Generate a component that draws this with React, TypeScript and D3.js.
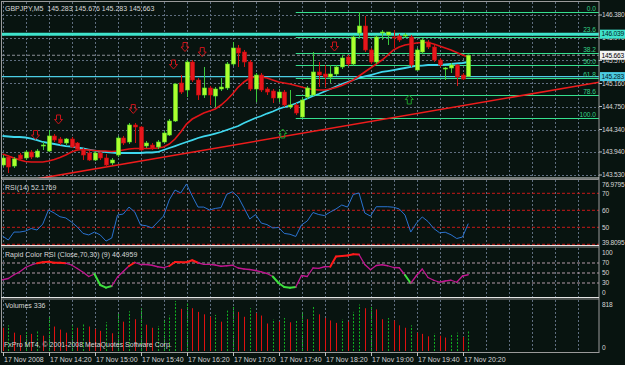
import React from "react";
import * as d3 from "d3";

// ---------- DATA ----------
const titleText = "GBPJPY,M5  145.283 145.676 145.283 145.663";
const rsiTitle = "RSI(14) 52.1769";
const rapidTitle = "Rapid Color RSI (Close,70,30) (9) 46.4959";
const volTitle = "Volumes 336";
const copyright = "FxPro MT4, \u00A9 2001-2008 MetaQuotes Software Corp.";

const opens = [143.708,143.850,143.690,143.886,143.833,143.940,143.850,144.047,143.957,144.225,
144.171,144.100,144.171,144.100,143.975,143.922,143.797,143.922,143.833,143.744,
143.886,144.189,144.118,144.421,144.385,144.047,144.064,144.029,144.118,144.242,
144.492,145.169,145.044,145.543,145.222,144.955,145.080,144.937,145.062,145.080,
145.507,145.792,145.721,145.543,145.062,145.311,145.062,145.026,144.902,145.008,
144.741,144.777,144.563,144.919,144.955,145.365,145.329,145.276,145.329,145.454,
145.632,145.507,146.059,146.184,145.757,145.543,146.059,146.024,145.988,146.006,
146.006,145.988,145.400,145.721,145.899,145.810,145.578,145.418,145.436,145.489,
145.311,145.283];
const highs = [143.886,143.886,143.850,143.922,143.975,143.975,143.993,144.118,144.332,144.260,
144.207,144.189,144.207,144.118,144.011,143.957,143.957,143.940,143.904,143.833,
144.225,144.225,144.456,144.456,144.403,144.136,144.100,144.153,144.314,144.528,
145.169,145.311,145.578,145.578,145.258,145.454,145.115,145.097,145.258,145.543,
145.899,145.846,145.757,145.578,145.347,145.347,145.097,145.062,145.062,145.044,
145.044,144.812,144.919,145.115,145.721,145.543,145.489,145.489,145.489,145.667,
145.667,146.024,146.433,146.362,145.792,146.024,146.113,146.077,146.113,146.042,
146.059,146.024,145.792,145.970,145.935,145.846,145.614,145.454,145.525,145.507,
145.347,145.676];
const lows = [143.672,143.566,143.655,143.779,143.797,143.815,143.833,143.975,143.940,144.118,
144.064,144.064,144.011,143.957,143.797,143.779,143.779,143.797,143.672,143.708,
143.850,144.064,144.082,144.100,143.957,144.011,143.975,143.993,144.100,144.225,
144.474,144.973,144.919,145.187,144.866,144.902,144.777,144.741,145.026,145.044,
145.472,145.454,145.454,145.026,144.830,145.008,144.955,144.812,144.830,144.741,
144.706,144.599,144.545,144.884,144.937,145.097,145.097,145.169,145.293,145.418,
145.472,145.472,145.970,145.721,145.507,145.507,145.935,145.846,145.792,145.899,
145.970,145.454,145.382,145.685,145.774,145.543,145.454,145.222,145.347,145.115,
145.222,145.283];
const closes = [143.833,143.672,143.815,143.815,143.940,143.850,143.957,144.064,144.225,144.153,
144.100,144.171,144.029,143.993,143.886,143.797,143.922,143.833,143.708,143.797,
144.189,144.100,144.421,144.385,143.975,144.100,144.011,144.118,144.278,144.492,
145.151,145.008,145.543,145.222,144.955,145.080,144.955,145.062,145.097,145.507,
145.792,145.703,145.543,145.062,145.311,145.044,145.008,144.902,145.008,144.777,
144.777,144.634,144.866,145.080,145.365,145.311,145.276,145.329,145.454,145.614,
145.507,145.988,146.184,145.757,145.543,145.988,146.077,146.077,145.970,145.935,
146.024,145.489,145.757,145.935,145.810,145.578,145.489,145.436,145.489,145.276,
145.240,145.663];

const maRed = [143.904,143.868,143.833,143.797,143.770,143.761,143.761,143.761,143.779,143.806,
143.842,143.886,143.940,143.975,143.984,143.975,143.966,143.957,143.957,143.949,
143.957,143.975,143.993,144.002,144.002,144.002,144.002,144.011,144.029,144.082,
144.171,144.296,144.438,144.527,144.581,144.634,144.670,144.706,144.777,144.866,
144.973,145.097,145.187,145.258,145.276,145.276,145.258,145.222,145.187,145.169,
145.151,145.124,145.097,145.071,145.053,145.044,145.044,145.062,145.089,145.124,
145.169,145.222,145.293,145.365,145.436,145.507,145.578,145.667,145.757,145.810,
145.846,145.863,145.881,145.890,145.890,145.863,145.828,145.792,145.757,145.712,
145.667,145.632];
const maCyan = [144.225,144.216,144.207,144.207,144.198,144.180,144.153,144.118,144.100,144.082,
144.064,144.046,144.038,144.020,144.002,143.984,143.966,143.949,143.940,143.931,
143.922,143.922,143.922,143.922,143.922,143.931,143.931,143.940,143.975,144.011,
144.046,144.082,144.118,144.153,144.189,144.216,144.242,144.269,144.296,144.332,
144.367,144.403,144.456,144.501,144.545,144.581,144.625,144.661,144.706,144.741,
144.768,144.804,144.848,144.893,144.937,144.973,145.017,145.062,145.106,145.151,
145.187,145.222,145.258,145.285,145.311,145.338,145.365,145.382,145.400,145.418,
145.436,145.454,145.472,145.480,145.489,145.489,145.489,145.498,145.507,145.516,
145.525,145.543];

const rsiValues = [44.9,42.5,47.2,47.2,47.8,49.3,48.4,51.9,60.2,58.4,
56.2,55.5,53.1,50.2,46.4,45.5,47.2,45.5,41.9,43.7,
57.2,57.8,61.9,59.0,51.4,50.9,49.6,53.1,56.6,66.1,
71.9,70.2,75.5,68.4,61.9,61.9,60.2,61.1,61.6,69.4,
70.9,67.8,61.4,54.9,57.5,52.5,51.6,49.6,49.9,46.4,
45.9,44.6,51.4,53.7,58.7,57.5,56.9,59.0,60.8,63.1,
61.9,69.3,70.2,58.4,56.6,62.1,62.1,62.1,61.8,60.8,
57.2,47.2,52.5,56.1,53.4,49.3,46.8,47.1,45.6,43.4,
44.3,52.18];

const rapidValues = [36.5,39,46.5,52.5,61,66,69.5,71.5,72.5,70.3,
70.3,69.5,66,59,51.5,43,48,26,20.7,24,
42,53,64,71,67,67,65.5,62.5,60.7,64,
72,71.5,71.5,75.5,70.5,67.3,67.3,66,63.5,64.5,
65.5,60,58,57,55,52.2,49,43,30,22,
20.7,22,45,43,60,59.3,62.5,62.7,83,84,
85,87.3,87,67,56.5,65,66.5,64.5,61,60.5,
46,29.5,45,58,41,35.5,31.5,34,35.5,31.5,
44,46.5];
const rapidUpRanges = [[7, 11], [23, 23], [30, 34], [58, 62]];
const rapidDownRanges = [[17, 19], [48, 51], [71, 71]];

const volumes = [380,420,300,260,310,280,330,250,560,400,
350,300,420,380,450,400,360,330,470,290,
620,480,650,520,700,430,380,410,520,580,
818,690,780,700,640,600,560,590,480,660,
720,640,560,700,620,580,450,520,480,540,
470,500,640,520,720,600,540,500,460,520,
480,640,760,700,720,680,520,540,500,420,
380,420,300,280,240,290,250,220,260,300,
230,336];

const timeLabelBars = [0, 8, 16, 24, 32, 40, 48, 56, 64, 72, 80];
const timeLabels = ["17 Nov 2008","17 Nov 14:20","17 Nov 15:00","17 Nov 15:40","17 Nov 16:20",
  "17 Nov 17:00","17 Nov 17:40","17 Nov 18:20","17 Nov 19:00","17 Nov 19:40","17 Nov 20:20"];
const priceTicks = [146.380,145.970,145.570,145.160,144.750,144.340,143.940,143.530];
const rsiAxisValues = [76.9795, 70, 60, 50, 39.8095];
const rsiAxisLabels = ["76.9795", "70", "60", "50", "39.8095"];
const rsiLevels = [70, 60, 50, 40];
const rapidAxisValues = [100, 70, 50, 30, 0];
const rapidLevels = [70, 50, 30];
const volAxisValues = [818, 0];

const fibHigh = 146.433;
const fibLow = 144.545;
const fibStartBar = 51;
const fibLevels = [0, 23.6, 38.2, 50.0, 61.8, 78.6, 100.0];
const fibLabels = ["0.0", "23.6", "38.2", "50.0", "61.8", "78.6", "100.0"];

const trendBars = [20, 70];
const trendPrices = [143.708, 144.588];

const hLinePrices = [146.039, 145.283];
const hLineLabels = ["146.039", "145.283"];
const bidPrice = 145.663;
const bidLabel = "145.663";

const downArrowBars = [6, 10, 23, 30, 32, 35, 58];
const downArrowPrices = [144.242, 144.519, 144.706, 145.498, 145.810, 145.721, 145.819];
const upArrowBars = [49, 71];
const upArrowPrices = [144.269, 144.875];

// ---------- CHART ----------
const W = 625, H = 365;
const RIGHT = 599;
const FONT = "'Liberation Sans', Arial, sans-serif";
const TXT = "#d6d6d6";
const GRID = "#5f6e80";
const AXFS = 6.6;

export default function App() {
  const n = closes.length;
  const idx = d3.range(n);
  const x = d3.scaleLinear().domain([0, 1]).range([2.5, 8.25]);
  const yP = d3.scaleLinear().domain([143.53, 146.38]).range([175, 15]);
  const yR = d3.scaleLinear().domain([50, 70]).range([227.3, 193.3]);
  const yC = d3.scaleLinear().domain([0, 100]).range([298, 248]);
  const yV = d3.scaleLinear().domain([0, 818]).range([351, 301]);

  const line = (arr: number[], ys: (v: number) => number) =>
    d3.line<number>().x((i) => x(i)).y((i) => ys(arr[i]))(idx) || "";

  const gridBars = d3.range(0, 110, 4).filter((b) => x(b) < RIGHT - 1);
  const clamp = (v: number, a: number, b: number) => Math.max(a, Math.min(b, v));
  const inRanges = (i: number, r: number[][]) => r.some(([a, b]) => i >= a && i <= b);

  const trendSlope = (trendPrices[1] - trendPrices[0]) / (trendBars[1] - trendBars[0]);
  const tb0 = -10, tb1 = 110;
  const tp = (b: number) => trendPrices[0] + (b - trendBars[0]) * trendSlope;

  const downArrow = (cx: number, cy: number) =>
    `M${cx - 2},${cy - 4.5} H${cx + 2} V${cy} H${cx + 4} L${cx},${cy + 4.5} L${cx - 4},${cy} H${cx - 2} Z`;
  const upArrow = (cx: number, cy: number) =>
    `M${cx - 2},${cy + 4.5} H${cx + 2} V${cy} H${cx + 4} L${cx},${cy - 4.5} L${cx - 4},${cy} H${cx - 2} Z`;

  const vgrid = (y1: number, y2: number) =>
    gridBars.map((b) => (
      <line key={`vg${y1}-${b}`} x1={Math.round(x(b)) + 0.5} x2={Math.round(x(b)) + 0.5} y1={y1} y2={y2}
        stroke={GRID} strokeDasharray="2,2" strokeWidth={1} />
    ));

  const yThick = yP(hLinePrices[0]);

  return (
    <svg width={W} height={H} style={{ position: "fixed", left: 0, top: 0, background: "#081410" }}
      fontFamily={FONT} fontSize={7}>
      <defs>
        <clipPath id="cMain"><rect x={2} y={2} width={RIGHT - 2} height={176} /></clipPath>
        <clipPath id="cRsi"><rect x={2} y={180} width={RIGHT - 2} height={65} /></clipPath>
        <clipPath id="cRap"><rect x={2} y={248} width={RIGHT - 2} height={50} /></clipPath>
        <clipPath id="cVol"><rect x={2} y={300} width={RIGHT - 2} height={52} /></clipPath>
      </defs>
      <rect x={0} y={0} width={W} height={H} fill="#081410" />

      {/* grids */}
      {vgrid(2, 178)}
      {vgrid(180, 245)}
      {vgrid(248, 297)}
      {vgrid(300, 352)}
      {priceTicks.map((p) => (
        <line key={`hg${p}`} x1={2} x2={RIGHT} y1={Math.round(yP(p)) + 0.5} y2={Math.round(yP(p)) + 0.5}
          stroke={GRID} strokeDasharray="2,2" />
      ))}

      {/* MAIN PANEL */}
      <g clipPath="url(#cMain)">
        <line x1={2} x2={RIGHT} y1={yP(bidPrice)} y2={yP(bidPrice)} stroke="#8a8f96" strokeDasharray="3,2" />
        {fibLevels.map((lv, k) => {
          const p = fibHigh - (lv / 100) * (fibHigh - fibLow);
          const yy = Math.round(yP(p)) + 0.5;
          return (
            <line key={`fib${k}`} x1={x(fibStartBar)} x2={RIGHT} y1={yy} y2={yy} stroke="#35e08e" strokeWidth={1.2} />
          );
        })}
        <line x1={2} x2={RIGHT} y1={yThick} y2={yThick} stroke="#3fe3cc" strokeWidth={3} />
        <line x1={2} x2={RIGHT} y1={yP(hLinePrices[1])} y2={yP(hLinePrices[1])} stroke="#4ccde4" strokeWidth={1.2} />
        {fibLevels.map((lv, k) => {
          const p = fibHigh - (lv / 100) * (fibHigh - fibLow);
          const yy = Math.round(yP(p)) + 0.5;
          const ly = Math.abs(yy - yThick) < 5 ? yThick - 2.2 : yy - 1.5;
          return (
            <text key={`fl${k}`} x={596} y={ly} fill="#35d088" textAnchor="end" fontSize={AXFS}>{fibLabels[k]}</text>
          );
        })}
        <line x1={x(tb0)} x2={x(tb1)} y1={yP(tp(tb0))} y2={yP(tp(tb1))} stroke="#ee1c1c" strokeWidth={1.6} />
        <path d={line(maCyan, yP)} fill="none" stroke="#3fd8ee" strokeWidth={1.8} />
        <path d={line(maRed, yP)} fill="none" stroke="#e01418" strokeWidth={1.6} />
        {idx.map((i) => {
          const bull = closes[i] >= opens[i];
          const cx = Math.round(x(i)) + 0.5;
          const top = yP(Math.max(opens[i], closes[i]));
          const bot = yP(Math.min(opens[i], closes[i]));
          return (
            <g key={`c${i}`}>
              <line x1={cx} x2={cx} y1={yP(highs[i])} y2={yP(lows[i])} stroke={bull ? "#3cc83c" : "#d01010"} />
              <rect x={cx - 2} y={top} width={4} height={Math.max(1, bot - top)}
                fill={bull ? "#adff2f" : "#e8161c"} stroke={bull ? "#5ee02a" : "#c40e0e"} strokeWidth={0.6} />
            </g>
          );
        })}
        {downArrowBars.map((b, k) => (
          <path key={`da${k}`} d={downArrow(x(b) - 1.5, yP(downArrowPrices[k]))} fill="none" stroke="#c8141a" strokeWidth={1} />
        ))}
        {upArrowBars.map((b, k) => (
          <path key={`ua${k}`} d={upArrow(x(b) - 1.5, yP(upArrowPrices[k]))} fill="none" stroke="#1f9e2a" strokeWidth={1} />
        ))}
      </g>
      <text x={5} y={11} fill={TXT} style={{ whiteSpace: "pre" }}>{titleText}</text>

      {/* RSI PANEL */}
      <g clipPath="url(#cRsi)">
        {rsiLevels.map((lv) => (
          <line key={`rl${lv}`} x1={2} x2={RIGHT} y1={yR(lv)} y2={yR(lv)} stroke="#c81818" strokeDasharray="3,2" />
        ))}
        <path d={line(rsiValues, yR)} fill="none" stroke="#2a72d0" strokeWidth={1} />
      </g>
      <text x={5} y={190} fill={TXT}>{rsiTitle}</text>

      {/* RAPID COLOR RSI PANEL */}
      <g clipPath="url(#cRap)">
        {rapidLevels.map((lv) => (
          <line key={`cl${lv}`} x1={2} x2={RIGHT} y1={yC(lv)} y2={yC(lv)} stroke="#b49aa8" strokeDasharray="3,2" />
        ))}
        {idx.slice(1).map((i) => {
          const up = inRanges(i, rapidUpRanges);
          const dn = inRanges(i, rapidDownRanges);
          return (
            <line key={`rs${i}`} x1={x(i - 1)} x2={x(i)} y1={yC(rapidValues[i - 1])} y2={yC(rapidValues[i])}
              stroke={up ? "#ff1a1a" : dn ? "#3ee03e" : "#c0168f"} strokeWidth={up || dn ? 2 : 1.3}
              strokeLinecap="round" />
          );
        })}
      </g>
      <text x={5} y={257} fill={TXT}>{rapidTitle}</text>

      {/* VOLUMES PANEL */}
      <g clipPath="url(#cVol)">
        {idx.map((i) => {
          const up = i > 0 && volumes[i] > volumes[i - 1];
          const cx = Math.round(x(i)) + 0.5;
          return (
            <line key={`v${i}`} x1={cx} x2={cx} y1={yV(0)} y2={yV(volumes[i])}
              stroke={up ? "#10b020" : "#e01010"} strokeDasharray={up ? "2,1.5" : undefined} />
          );
        })}
      </g>
      <text x={5} y={308} fill={TXT}>{volTitle}</text>
      <text x={4} y={347} fill={TXT}>{copyright}</text>

      {/* separators & frame */}
      <rect x={1.5} y={1.5} width={RIGHT - 1.5} height={351} fill="none" stroke="#9a9a9a" />
      {[178, 245.5, 297.5].map((yy) => (
        <g key={`sep${yy}`}>
          <line x1={1} x2={RIGHT} y1={yy} y2={yy} stroke="#e4e4e4" strokeWidth={1.2} />
          <line x1={1} x2={RIGHT} y1={yy + 1.5} y2={yy + 1.5} stroke="#8c8c8c" strokeWidth={1} />
        </g>
      ))}

      {/* price axis */}
      <g fontSize={AXFS} letterSpacing={-0.2}>
        {priceTicks.map((p) => (
          <g key={`pt${p}`}>
            <line x1={RIGHT} x2={RIGHT + 3} y1={yP(p)} y2={yP(p)} stroke="#bdbdbd" />
            <text x={602} y={yP(p)} dy="0.35em" fill={TXT}>{p.toFixed(3)}</text>
          </g>
        ))}
        {hLinePrices.map((p, k) => (
          <g key={`hb${k}`}>
            <rect x={600} y={yP(p) - 4.5} width={25} height={9} fill={k === 0 ? "#3fe3cc" : "#4ccde4"} />
            <text x={601.5} y={yP(p)} dy="0.35em" fill="#04201c">{hLineLabels[k]}</text>
          </g>
        ))}
        <rect x={600} y={yP(bidPrice) - 4.5} width={25} height={9} fill="#f4f4f4" />
        <text x={601.5} y={yP(bidPrice)} dy="0.35em" fill="#000">{bidLabel}</text>

        {rsiAxisValues.map((v, k) => (
          <text key={`ra${k}`} x={602} y={clamp(yR(v), 185, 243)} dy="0.35em" fill={TXT}>{rsiAxisLabels[k]}</text>
        ))}
        {rapidAxisValues.map((v) => (
          <text key={`ca${v}`} x={602} y={clamp(yC(v), 253, 293)} dy="0.35em" fill={TXT}>{v}</text>
        ))}
        {volAxisValues.map((v) => (
          <text key={`va${v}`} x={602} y={clamp(yV(v), 305, 348)} dy="0.35em" fill={TXT}>{v}</text>
        ))}
      </g>

      {/* time axis */}
      {timeLabelBars.map((b, k) => (
        <g key={`tl${b}`}>
          <line x1={Math.round(x(b)) + 0.5} x2={Math.round(x(b)) + 0.5} y1={352} y2={356} stroke="#bdbdbd" />
          <text x={x(b) + 1.5} y={362} fill={TXT}>{timeLabels[k]}</text>
        </g>
      ))}
    </svg>
  );
}
